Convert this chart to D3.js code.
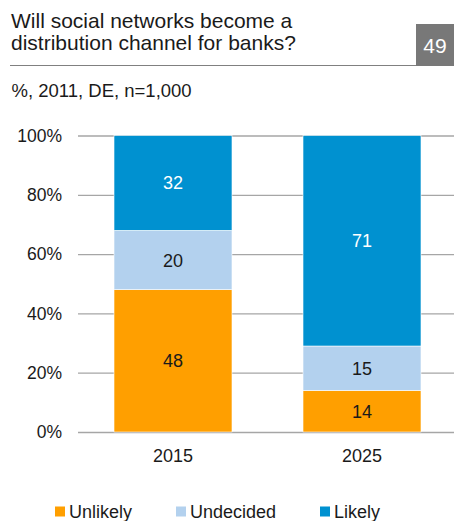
<!DOCTYPE html>
<html>
<head>
<meta charset="utf-8">
<script src="https://cdn.jsdelivr.net/npm/d3@7"></script>
<style>
body { margin: 0; background: #fff; }
svg text { font-family: "Liberation Sans", Arial, sans-serif; }
</style>
</head>
<body>
<div id="chart"></div>
<script>
const years = ['2015', '2025']
const seriesNames = ['Unlikely', 'Undecided', 'Likely']
const unlikely = [48, 14]
const undecided = [20, 15]
const likely = [32, 71]
const yTicks = [0, 20, 40, 60, 80, 100]
const colors = ['#FF9F00', '#B3D1EE', '#0091D0']
const labelColors = ['#1a1a1a', '#1a1a1a', '#ffffff']

const width = 454, height = 521

let svg = d3.select('#chart').append('svg')
.attr('width', width)
.attr('height', height)

// header
svg.append('text').attr('x', 11).attr('y', 28).attr('font-size', 21).attr('fill', '#1a1a1a')
.text('Will social networks become a')
svg.append('text').attr('x', 11).attr('y', 50).attr('font-size', 21).attr('fill', '#1a1a1a')
.text('distribution channel for banks?')
svg.append('line').attr('x1', 10).attr('x2', 416).attr('y1', 65.5).attr('y2', 65.5)
.attr('stroke', '#808080').attr('stroke-width', 1.2)
svg.append('rect').attr('x', 416).attr('y', 24).attr('width', 38).attr('height', 42).attr('fill', '#787878')
svg.append('text').attr('x', 435).attr('y', 53).attr('text-anchor', 'middle')
.attr('font-size', 21).attr('fill', '#fff').text('49')
svg.append('text').attr('x', 11.5).attr('y', 97).attr('font-size', 18.5).attr('fill', '#1a1a1a')
.text('%, 2011, DE, n=1,000')

// scales
let yScale = d3.scaleLinear().domain([0, 100]).range([432, 135.5])
let xScale = d3.scaleBand().domain(years).range([78, 457]).paddingInner(0.3757).paddingOuter(0.1905)

let axis = svg.append('g')
axis.append('g')
.attr('transform', 'translate(78,0)')
.call(d3.axisLeft(yScale).tickValues(yTicks).tickSize(-(width - 78)).tickFormat(d => d + '%'))
.call(g => g.select('.domain').remove())
.call(g => g.selectAll('.tick line').attr('stroke', '#a6a6a6').attr('stroke-width', 1.3))
.call(g => g.selectAll('.tick text').attr('x', -16).attr('font-size', 17.5).attr('fill', '#1a1a1a')
  .style('font-family', '"Liberation Sans", Arial, sans-serif'))

// stack
const rows = years.map((y, i) => ({year: y, Unlikely: unlikely[i], Undecided: undecided[i], Likely: likely[i]}))
const stack = d3.stack().keys(seriesNames)(rows)

let bars = svg.append('g')
stack.forEach((layer, si) => {
  let g = bars.append('g')
  g.selectAll('rect').data(layer).enter().append('rect')
  .attr('x', d => xScale(d.data.year))
  .attr('width', xScale.bandwidth())
  .attr('y', d => yScale(d[1]))
  .attr('height', d => yScale(d[0]) - yScale(d[1]))
  .attr('fill', colors[si])
  .attr('stroke', '#fff').attr('stroke-width', 0.6)
  g.selectAll('text').data(layer).enter().append('text')
  .attr('x', d => xScale(d.data.year) + xScale.bandwidth() / 2)
  .attr('y', d => (yScale(d[0]) + yScale(d[1])) / 2 + 6.5)
  .attr('text-anchor', 'middle')
  .attr('font-size', 18)
  .attr('fill', labelColors[si])
  .text(d => d[1] - d[0])
})

// x labels
svg.append('g').selectAll('text').data(years).enter().append('text')
.attr('x', d => xScale(d) + xScale.bandwidth() / 2)
.attr('y', 462)
.attr('text-anchor', 'middle')
.attr('font-size', 18)
.attr('fill', '#1a1a1a')
.text(d => d)

// legend
const legendX = [55, 176, 320]
let legend = svg.append('g')
seriesNames.forEach((n, i) => {
  legend.append('rect').attr('x', legendX[i]).attr('y', 506.5).attr('width', 10).attr('height', 10).attr('fill', colors[i])
  legend.append('text').attr('x', legendX[i] + 14).attr('y', 518).attr('font-size', 18).attr('fill', '#1a1a1a').text(n)
})
</script>
</body>
</html>
